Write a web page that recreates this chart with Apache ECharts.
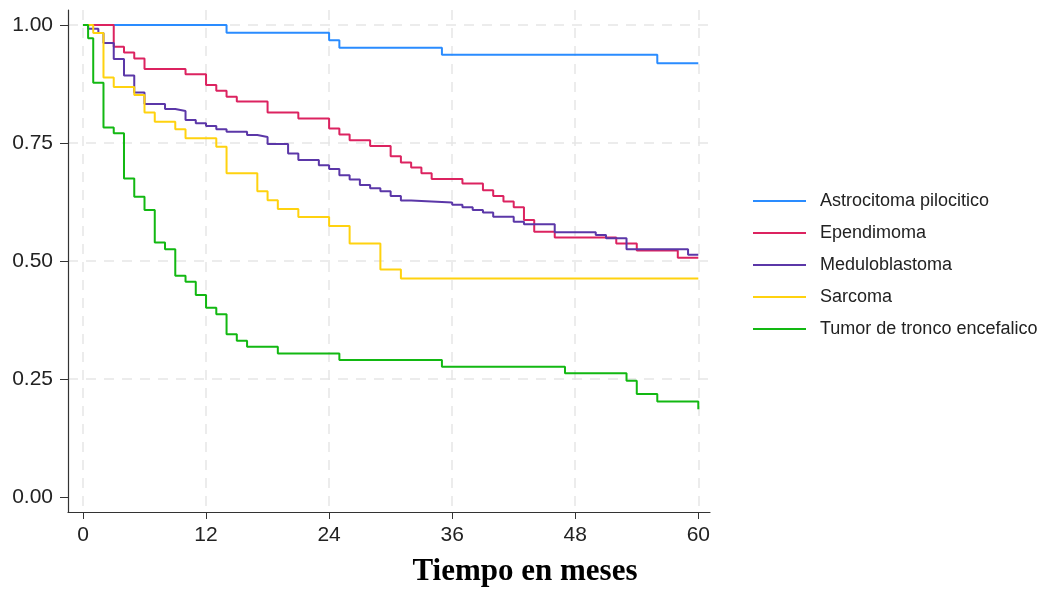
<!DOCTYPE html>
<html lang="es">

<head>
  <meta charset="UTF-8">
  <title>Supervivencia por tipo de tumor</title>
  <style>
    html, body {
      margin: 0;
      padding: 0;
      background-color: #fff;
    }

    #chart {
      width: 1047px;
      height: 592px;
    }
  </style>
</head>

<body>
  <div id="chart"></div>
  <script src="https://cdn.jsdelivr.net/npm/echarts@6/dist/echarts.min.js"></script>
  <script>
    // tiempos (meses) y supervivencia estimada
    const astroT = [0, 14, 24, 25, 35, 56, 60]
    const astroS = [1, 0.984, 0.968, 0.952, 0.937, 0.919, 0.919]

    const ependT = [0, 3, 4, 5, 6, 10, 12, 13, 14, 15, 18, 21, 24, 25, 26, 28, 30, 31, 32, 33, 34, 37, 39, 40, 41, 42, 43, 44, 46, 52, 54, 58, 60]
    const ependS = [1, 0.954, 0.942, 0.929, 0.907, 0.896, 0.873, 0.861, 0.848, 0.838, 0.815, 0.802, 0.781, 0.768, 0.756, 0.744, 0.722, 0.709, 0.698, 0.686, 0.674, 0.664, 0.650, 0.638, 0.626, 0.614, 0.587, 0.562, 0.550, 0.537, 0.522, 0.507, 0.507]

    const meduT = [0, 0.5, 1.5, 2, 3, 4, 5, 6, 8, 9, 10, 11, 12, 13, 14, 16, 17, 18, 20, 21, 23, 24, 25, 26, 27, 28, 29, 30, 31, 32, 36, 37, 38, 39, 40, 42, 43, 46, 50, 51, 53, 59, 60]
    const meduS = [1, 0.992, 0.983, 0.962, 0.928, 0.893, 0.857, 0.833, 0.822, 0.818, 0.799, 0.792, 0.786, 0.779, 0.774, 0.767, 0.763, 0.748, 0.728, 0.714, 0.703, 0.695, 0.682, 0.673, 0.661, 0.654, 0.648, 0.638, 0.628, 0.624, 0.619, 0.614, 0.608, 0.603, 0.594, 0.583, 0.578, 0.561, 0.555, 0.548, 0.525, 0.513, 0.513]

    const sarcT = [0, 1, 2, 3, 5, 6, 7, 9, 10, 13, 14, 17, 18, 19, 21, 24, 26, 29, 31, 60]
    const sarcS = [1, 0.983, 0.889, 0.869, 0.852, 0.815, 0.795, 0.779, 0.760, 0.742, 0.686, 0.648, 0.629, 0.610, 0.593, 0.574, 0.537, 0.482, 0.463, 0.463]

    const troncoT = [0, 0.5, 1, 2, 3, 4, 5, 6, 7, 8, 9, 10, 11, 12, 13, 14, 15, 16, 19, 25, 35, 47, 53, 54, 56, 60]
    const troncoS = [1, 0.972, 0.878, 0.783, 0.771, 0.675, 0.636, 0.608, 0.539, 0.525, 0.469, 0.456, 0.428, 0.401, 0.387, 0.345, 0.331, 0.318, 0.304, 0.290, 0.276, 0.262, 0.246, 0.218, 0.202, 0.186]

    const names = ['Astrocitoma pilocitico', 'Ependimoma', 'Meduloblastoma', 'Sarcoma', 'Tumor de tronco encefalico']
    const colors = ['#2a8cff', '#dc2360', '#5b37a8', '#ffd20f', '#12b812']
    const xTicks = [0, 12, 24, 36, 48, 60]
    const yTicks = [0, 0.25, 0.5, 0.75, 1]
    const yGrid = [0.25, 0.5, 0.75, 1]

    const curves = [
      [astroT, astroS],
      [ependT, ependS],
      [meduT, meduS],
      [sarcT, sarcS],
      [troncoT, troncoS]
    ]

    const gridLine = {
      show: true,
      lineStyle: { color: '#e6e6e6', width: 1.5, type: [10, 8] }
    }

    const option = {
      animation: false,
      color: colors,
      grid: { left: 68, right: 337, top: 10, bottom: 80 },
      legend: {
        orient: 'vertical',
        left: 753,
        top: 192,
        padding: 0,
        icon: 'rect',
        itemWidth: 53,
        itemHeight: 2,
        itemGap: 14,
        textStyle: {
          fontFamily: 'Liberation Sans',
          fontSize: 18,
          color: '#222',
          padding: [0, 0, 0, 9]
        },
        data: names
      },
      xAxis: {
        type: 'value',
        min: -1.46,
        max: 61.14,
        name: 'Tiempo en meses',
        nameLocation: 'middle',
        nameGap: 44,
        nameTextStyle: {
          fontFamily: 'Liberation Serif',
          fontWeight: 'bold',
          fontSize: 31,
          color: '#000',
          padding: [0, 0, 0, 272]
        },
        axisLine: { onZero: false, lineStyle: { color: '#333', width: 1.2 } },
        axisTick: { customValues: xTicks, length: 7, lineStyle: { color: '#333' } },
        axisLabel: {
          customValues: xTicks,
          margin: 13,
          fontFamily: 'Liberation Sans',
          fontSize: 21,
          color: '#222'
        },
        splitLine: gridLine
      },
      yAxis: [
        {
          type: 'value',
          min: -0.032,
          max: 1.032,
          axisLine: { show: true, onZero: false, lineStyle: { color: '#333', width: 1.2 } },
          axisTick: { show: true, customValues: yTicks, length: 8, lineStyle: { color: '#333' } },
          axisLabel: {
            customValues: yTicks,
            margin: 15,
            fontFamily: 'Liberation Sans',
            fontSize: 21,
            color: '#222',
            formatter: v => v.toFixed(2)
          },
          splitLine: { show: false }
        },
        {
          // solo para las lineas de la cuadricula horizontal
          type: 'value',
          position: 'left',
          min: -0.032,
          max: 1.032,
          axisLine: { show: false },
          axisTick: { show: false, customValues: yGrid },
          axisLabel: { show: false, customValues: yGrid },
          splitLine: gridLine
        }
      ],
      series: curves.map((c, i) => ({
        name: names[i],
        type: 'line',
        step: 'end',
        symbol: 'none',
        lineStyle: { width: 2 },
        data: c[0].map((t, j) => [t, c[1][j]])
      }))
    }

    const myChart = echarts.init(document.getElementById('chart'))
    myChart.setOption(option)
  </script>
</body>

</html>
